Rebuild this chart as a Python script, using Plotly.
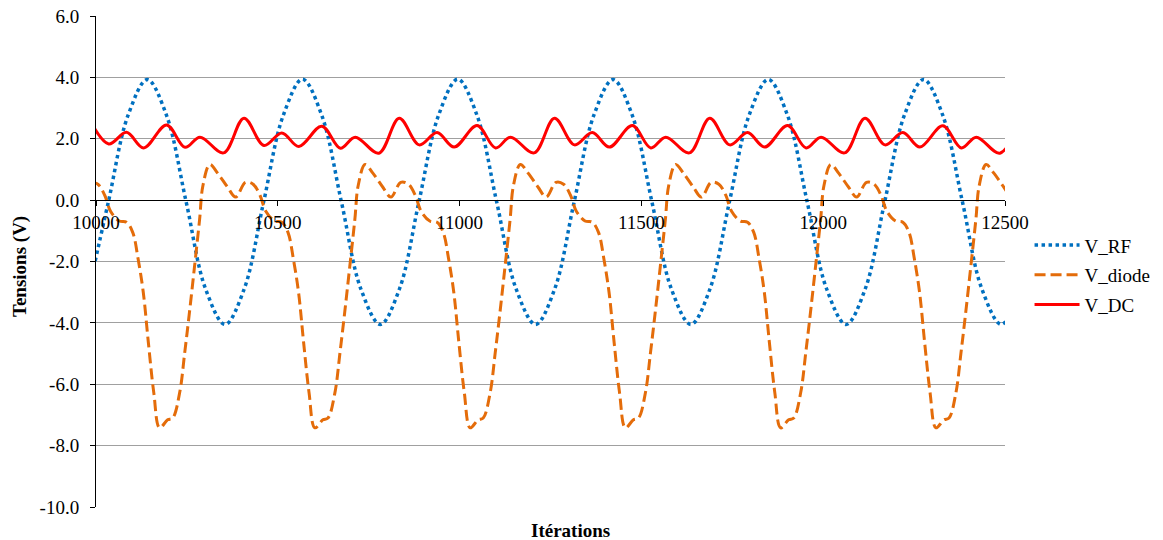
import plotly.graph_objects as go

# ---- data ----
rf_iter = [9981, 10034, 10088, 10141, 10194, 10248, 10301, 10355, 10408, 10461, 10515,
           10568, 10621, 10675, 10728, 10782, 10835, 10888, 10942, 10995, 11048, 11102,
           11155, 11209, 11262, 11315, 11369, 11422, 11475, 11529, 11582, 11636, 11689,
           11742, 11796, 11849, 11902, 11956, 12009, 12063, 12116, 12169, 12223, 12276,
           12329, 12383, 12436, 12490, 12543]
rf_volt = [-2.88, -0.06, 2.76, 3.93, 2.76, -0.06, -2.88, -4.05, -2.88, -0.06, 2.76,
           3.94, 2.76, -0.06, -2.88, -4.05, -2.88, -0.06, 2.76, 3.94, 2.76, -0.06,
           -2.88, -4.05, -2.88, -0.06, 2.76, 3.93, 2.76, -0.06, -2.88, -4.05, -2.88,
           -0.06, 2.76, 3.93, 2.76, -0.06, -2.88, -4.05, -2.88, -0.06, 2.76, 3.93,
           2.76, -0.06, -2.88, -4.05, -2.88]

diode_iter = [9984, 10005, 10024, 10040, 10064, 10084, 10101, 10116, 10130, 10144, 10159,
              10175, 10197, 10211, 10230, 10244, 10257, 10271, 10285, 10294, 10313, 10335,
              10362, 10384, 10411, 10432, 10451, 10467, 10491, 10511, 10528, 10543, 10557,
              10571, 10586,
              10602, 10624, 10638, 10657, 10671, 10684, 10698, 10712, 10721, 10740, 10762,
              10789, 10811, 10838, 10859, 10878, 10894, 10918, 10938, 10955, 10970, 10984,
              10998, 11013,
              11029, 11051, 11065, 11084, 11098, 11111, 11125, 11139, 11148, 11167, 11189,
              11216, 11238, 11265, 11286, 11305, 11321, 11345, 11365, 11382, 11397, 11411,
              11425, 11440,
              11456, 11478, 11492, 11511, 11525, 11538, 11552, 11566, 11575, 11594, 11616,
              11643, 11665, 11692, 11713, 11732, 11748, 11772, 11792, 11809, 11824, 11838,
              11852, 11867,
              11883, 11905, 11919, 11938, 11952, 11965, 11979, 11993, 12002, 12021, 12043,
              12070, 12092, 12119, 12140, 12159, 12175, 12199, 12219, 12236, 12251, 12265,
              12279, 12294,
              12310, 12332, 12346, 12365, 12379, 12392, 12406, 12420, 12429, 12448, 12470,
              12497, 12519, 12546]
diode_volt = [0.58, 0.52, 0.16, -0.36, -0.68, -0.72, -1.05, -1.93, -3.00, -4.64, -6.28,
              -7.42, -7.16, -7.10, -6.28, -4.97, -3.66, -2.16, -0.62, 0.47, 1.16, 0.87,
              0.42, 0.10, 0.58, 0.52, 0.16, -0.36, -0.68, -0.72, -1.05, -1.93, -3.00,
              -4.64, -6.28,
              -7.42, -7.16, -7.10, -6.28, -4.97, -3.66, -2.16, -0.62, 0.47, 1.16, 0.87,
              0.42, 0.10, 0.58, 0.52, 0.16, -0.36, -0.68, -0.72, -1.05, -1.93, -3.00,
              -4.64, -6.28,
              -7.42, -7.16, -7.10, -6.28, -4.97, -3.66, -2.16, -0.62, 0.47, 1.16, 0.87,
              0.42, 0.10, 0.58, 0.52, 0.16, -0.36, -0.68, -0.72, -1.05, -1.93, -3.00,
              -4.64, -6.28,
              -7.42, -7.16, -7.10, -6.28, -4.97, -3.66, -2.16, -0.62, 0.47, 1.16, 0.87,
              0.42, 0.10, 0.58, 0.52, 0.16, -0.36, -0.68, -0.72, -1.05, -1.93, -3.00,
              -4.64, -6.28,
              -7.42, -7.16, -7.10, -6.28, -4.97, -3.66, -2.16, -0.62, 0.47, 1.16, 0.87,
              0.42, 0.10, 0.58, 0.52, 0.16, -0.36, -0.68, -0.72, -1.05, -1.93, -3.00,
              -4.64, -6.28,
              -7.42, -7.16, -7.10, -6.28, -4.97, -3.66, -2.16, -0.62, 0.47, 1.16, 0.87,
              0.42, 0.10, 0.58]

dc_iter = [9980, 10035, 10084, 10131, 10194, 10245, 10286, 10351,
           10407, 10462, 10511, 10558, 10621, 10672, 10713, 10778,
           10834, 10889, 10938, 10985, 11048, 11099, 11140, 11205,
           11261, 11316, 11365, 11412, 11475, 11526, 11567, 11632,
           11688, 11743, 11792, 11839, 11902, 11953, 11994, 12059,
           12115, 12170, 12219, 12266, 12329, 12380, 12421, 12486,
           12542]
dc_volt = [2.67, 1.83, 2.21, 1.70, 2.45, 1.72, 2.05, 1.54,
           2.67, 1.78, 2.19, 1.75, 2.41, 1.69, 2.05, 1.53,
           2.67, 1.80, 2.20, 1.73, 2.43, 1.70, 2.05, 1.54,
           2.67, 1.80, 2.20, 1.73, 2.43, 1.70, 2.05, 1.54,
           2.67, 1.80, 2.20, 1.73, 2.43, 1.70, 2.05, 1.54,
           2.67, 1.80, 2.20, 1.73, 2.42, 1.70, 2.05, 1.53,
           2.67]

x_ticks = [10000, 10500, 11000, 11500, 12000, 12500]
x_tick_labels = ["10000", "10500", "11000", "11500", "12000", "12500"]
y_ticks = [-10, -8, -6, -4, -2, 0, 2, 4, 6]
y_tick_labels = ["-10.0", "-8.0", "-6.0", "-4.0", "-2.0", "0.0", "2.0", "4.0", "6.0"]

FONT = "Liberation Serif, Times New Roman, serif"

fig = go.Figure()
fig.add_trace(go.Scatter(x=rf_iter, y=rf_volt, name="V_RF", mode="lines",
                         line=dict(color="#0070C0", width=3.5, dash="3.5px,3.5px", shape="spline"),
                         legendgroup="a"))
fig.add_trace(go.Scatter(x=diode_iter, y=diode_volt, name="V_diode", mode="lines",
                         line=dict(color="#E46C0A", width=3, dash="11px,5px", shape="spline"),
                         legendgroup="b"))
fig.add_trace(go.Scatter(x=dc_iter, y=dc_volt, name="V_DC", mode="lines",
                         line=dict(color="#FF0000", width=3, shape="spline"),
                         legendgroup="c"))

fig.update_layout(
    width=1163, height=540,
    margin=dict(l=96, r=158, t=16, b=33, autoexpand=False),
    paper_bgcolor="white", plot_bgcolor="white",
    font=dict(family=FONT, size=19, color="black"),
    showlegend=True,
    legend=dict(x=1.027, y=0.472, xanchor="left", yanchor="middle",
                font=dict(family=FONT, size=19, color="black"),
                tracegroupgap=2, itemwidth=45, bgcolor="rgba(0,0,0,0)"),
    xaxis=dict(range=[10000, 12500], tickvals=x_ticks, ticktext=x_tick_labels,
               anchor="free", position=0.6245, side="bottom", automargin=False,
               showline=True, linecolor="black", linewidth=1,
               ticks="outside", ticklen=5, tickcolor="black",
               showgrid=False, zeroline=False,
               tickfont=dict(family=FONT, size=19, color="black")),
    yaxis=dict(range=[-10, 6], tickvals=y_ticks, ticktext=y_tick_labels, automargin=False,
               showline=True, linecolor="black", linewidth=1,
               ticks="outside", ticklen=5, tickcolor="black", ticklabelstandoff=7,
               showgrid=True, gridcolor="#a0a0a0", gridwidth=1,
               zeroline=False,
               tickfont=dict(family=FONT, size=19, color="black")),
    annotations=[
        dict(text="<b>Itérations</b>", xref="paper", yref="paper",
             x=(570 - 96) / 909, y=-(530 - 507) / 491, xanchor="center", yanchor="middle",
             showarrow=False, font=dict(family=FONT, size=19, color="black")),
        dict(text="<b>Tensions (V)</b>", xref="paper", yref="paper",
             x=-(96 - 20) / 909, y=(507 - 267) / 491, xanchor="center", yanchor="middle",
             textangle=-90, showarrow=False, font=dict(family=FONT, size=19, color="black")),
    ],
)

fig.write_html("out.html", config={"displayModeBar": False},
               post_script="document.body.style.margin='0';document.body.style.overflow='hidden';")
